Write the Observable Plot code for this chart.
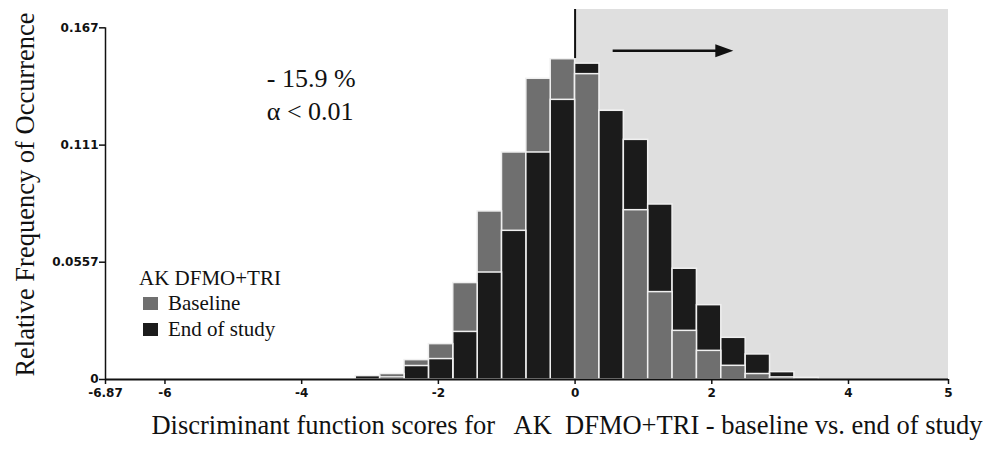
<!DOCTYPE html>
<html><head><meta charset="utf-8">
<script src="https://cdn.jsdelivr.net/npm/d3@7"></script>
<script src="https://cdn.jsdelivr.net/npm/@observablehq/plot@0.6"></script>
<style>
body{margin:0;background:#fff;}
#wrap{position:relative;width:992px;height:449px;overflow:hidden;}
.legend{position:absolute;left:139px;top:266px;font-family:"Liberation Serif","Times New Roman",serif;color:#111;}
.legend .title{font-size:21px;line-height:24px;white-space:nowrap;}
.legend .item{font-size:21px;line-height:26px;white-space:nowrap;display:flex;align-items:center;}
.legend .sw{display:inline-block;width:15px;height:13px;margin-left:4px;margin-right:10px;}
</style></head><body><div id="wrap"></div>
<script>
// Histogram bins (left edges, data units) and bin width
const binStart = [-3.2085,-2.852,-2.4955,-2.139,-1.7825,-1.426,-1.0695,-0.713,-0.3565,0,0.3565,0.713,1.0695,1.426,1.7825,2.139,2.4955,2.852,3.2085];
const binWidth = 0.3565;
// Relative frequencies
const baseline   = [0,0.0026,0.0092,0.0168,0.0458,0.0798,0.1078,0.1428,0.1521,0.1450,0.1276,0.0804,0.0415,0.0231,0.0136,0.0065,0.0026,0.0010,0];
const endOfStudy = [0.0016,0.0010,0.0064,0.0097,0.0226,0.0508,0.0706,0.1078,0.1328,0.1500,0.1276,0.1138,0.0831,0.0526,0.0353,0.0198,0.0119,0.0035,0.0008];
const seriesNames = ["Baseline","End of study"];
const seriesColors = ["#6f6f6f","#1b1b1b"];
// Axes
const xTicks = [-6.87,-6,-4,-2,0,2,4,5];
const xTickLabels = ["-6.87","-6","-4","-2","0","2","4","5"];
const yTicks = [0,0.0557,0.1113,0.167];
const yTickLabels = ["0","0.0557","0.111","0.167"];
const yTop = 0.1757;
const xLabel = "Discriminant function scores for\u00a0\u00a0 AK\u00a0 DFMO+TRI - baseline vs. end of study";
const yLabel = "Relative Frequency of Occurrence";
const legendTitle = "AK DFMO+TRI";
// Annotations
const shadeRegion = [{x1:0, x2:5}];
const cutLine = [{x:0, y1:0.1524}];
const arrowLine = [{x1:0.557, x2:2.15, y:0.1561}];
const arrowTip = [{x:2.315, y:0.1561}];
const annotations = [{text:"- 15.9 %", x:-4.51, y:0.1430},{text:"\u03b1 < 0.01", x:-4.51, y:0.1272}];

const rows = [];
binStart.forEach((b,i)=>{
  rows.push({x1:b, x2:b+binWidth, value:baseline[i], series:seriesNames[0]});
  rows.push({x1:b, x2:b+binWidth, value:endOfStudy[i], series:seriesNames[1]});
});
// taller bar behind, shorter bar in front (stable sort keeps End of study in front on ties)
const sorted = rows.slice().sort((a,b)=>b.value-a.value);

const arrowHead = {draw(ctx){ ctx.moveTo(0,0); ctx.lineTo(-18,-6.5); ctx.lineTo(-18,6.5); ctx.closePath(); }};
const serif = "'Liberation Serif','Times New Roman',serif";
const tickFont = "'DejaVu Sans', sans-serif";

const chart = Plot.plot({
  width:992, height:449,
  marginTop:9, marginBottom:70, marginLeft:105, marginRight:44,
  x:{type:"linear", domain:[-6.87,4,5], range:[105,848,948]},
  y:{domain:[0,yTop]},
  color:{domain:seriesNames, range:seriesColors},
  style:{fontFamily:tickFont, fontSize:"12px", background:"#fff", color:"#111"},
  marks:[
    Plot.rect(shadeRegion,{x1:"x1", x2:"x2", y1:0, y2:yTop, fill:"#dfdfdf"}),
    Plot.rect(sorted,{x1:"x1", x2:"x2", y1:0, y2:"value", fill:"series", stroke:"#f0f0f0", strokeWidth:1.5}),
    Plot.ruleX(cutLine,{x:"x", y1:"y1", y2:yTop, stroke:"#111", strokeWidth:2}),
    Plot.ruleY(arrowLine,{x1:"x1", x2:"x2", y:"y", stroke:"#111", strokeWidth:2.6}),
    Plot.dot(arrowTip,{x:"x", y:"y", symbol:arrowHead, fill:"#111", stroke:null}),
    Plot.text(annotations,{x:"x", y:"y", text:"text", textAnchor:"start", lineAnchor:"middle", fontFamily:serif, fontSize:26, fill:"#111"}),
    Plot.ruleY([0],{stroke:"#111", strokeWidth:2}),
    Plot.ruleX([-6.87],{y1:0, y2:0.167, stroke:"#111", strokeWidth:1.5}),
    Plot.axisX({ticks:xTicks, tickFormat:d=>xTickLabels[xTicks.indexOf(d)], tickSize:5, tickPadding:4, fontFamily:tickFont, fontSize:12, fontWeight:"bold", label:null, strokeWidth:1.5}),
    Plot.axisY({ticks:yTicks, tickFormat:d=>yTickLabels[yTicks.indexOf(d)], tickSize:6, tickPadding:1, fontFamily:tickFont, fontSize:12, fontWeight:"bold", label:null, strokeWidth:1.5}),
    Plot.text([yLabel],{frameAnchor:"left", rotate:-90, dx:-80, text:d=>d, fontFamily:serif, fontSize:26.5, fill:"#111", textAnchor:"middle", lineAnchor:"middle"}),
    Plot.text([xLabel],{frameAnchor:"bottom", dx:40, dy:46, text:d=>d, fontFamily:serif, fontSize:26.5, fill:"#111", textAnchor:"middle", lineAnchor:"middle"})
  ]
});
const wrap = document.getElementById("wrap");
wrap.appendChild(chart);

const legend = document.createElement("div");
legend.className = "legend";
const t = document.createElement("div"); t.className="title"; t.textContent = legendTitle; legend.appendChild(t);
seriesNames.forEach((n,i)=>{
  const it = document.createElement("div"); it.className="item";
  const sw = document.createElement("span"); sw.className="sw"; sw.style.background = seriesColors[i];
  it.appendChild(sw); it.appendChild(document.createTextNode(n)); legend.appendChild(it);
});
wrap.appendChild(legend);
</script>
</body></html>
